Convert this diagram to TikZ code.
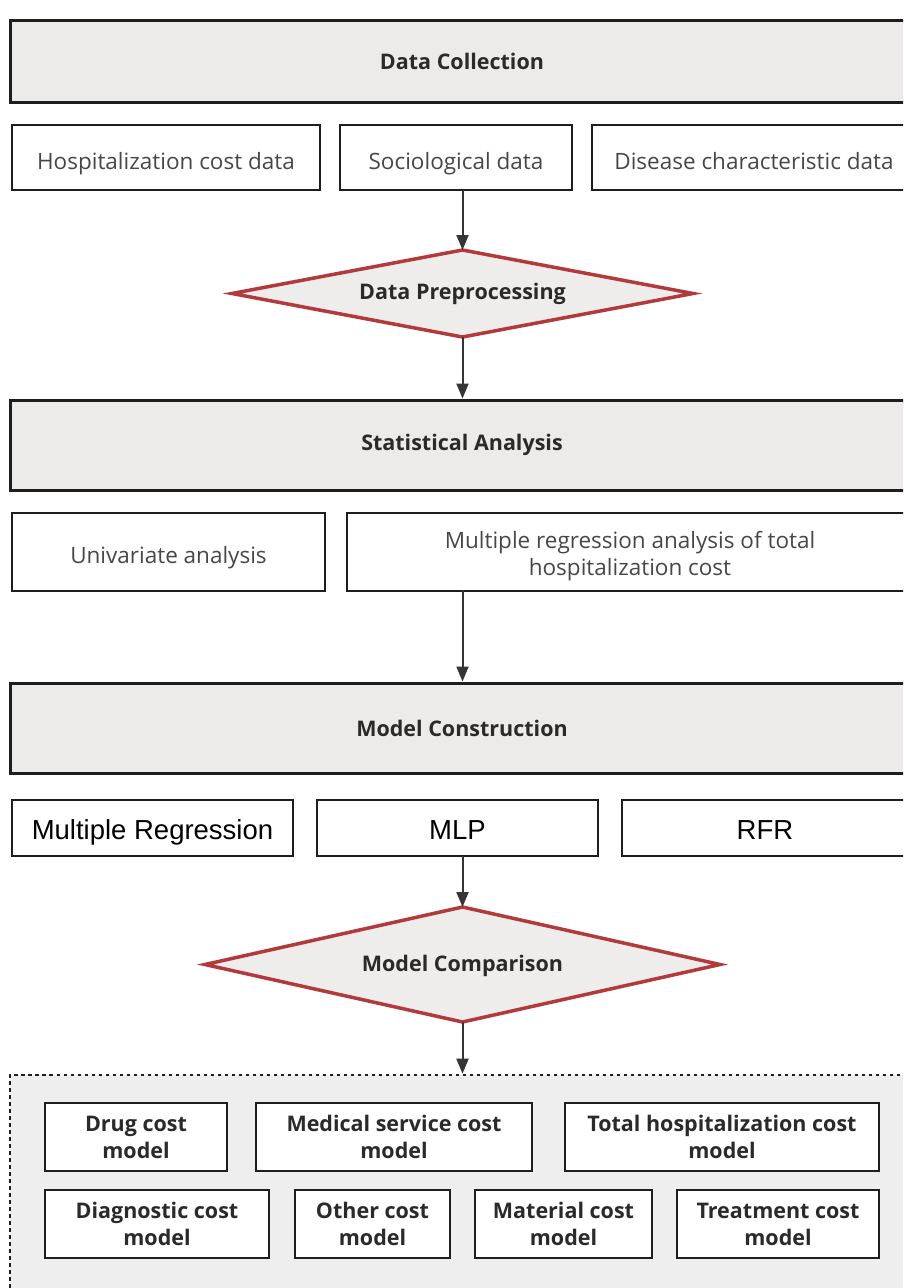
\documentclass[tikz,border=0pt]{standalone}
\usepackage{fontspec}
\setmainfont{Open Sans}
\newfontfamily\arialf{Liberation Sans}
\usetikzlibrary{arrows.meta}
\definecolor{hdrfill}{HTML}{EDEBE9}
\definecolor{dfill}{HTML}{EEEDEC}
\definecolor{cfill}{HTML}{EEEEEE}
\definecolor{bord}{HTML}{1E1E1E}
\definecolor{redb}{HTML}{B23A3C}
\definecolor{txt}{HTML}{474747}
\definecolor{btxt}{HTML}{2A2A2A}
\tikzset{
  hdr/.style={draw=bord,line width=3pt,fill=hdrfill,inner sep=0pt,font=\fontsize{21.5}{26}\selectfont\bfseries,text=btxt},
  sbox/.style={draw=bord,line width=2pt,fill=white,inner sep=0pt,font=\fontsize{22.5}{27}\selectfont,text=txt,align=center},
  sone/.style={sbox,text height=23pt,text depth=0pt},
  abox/.style={draw=bord,line width=2pt,fill=white,inner sep=0pt,font=\arialf\fontsize{27.5}{30}\selectfont,text=black,text height=22pt,text depth=0pt},
  mbox/.style={draw=bord,line width=2.2pt,fill=white,inner sep=0pt,font=\fontsize{21.5}{27}\selectfont\bfseries,text=btxt,align=center},
  dia/.style={draw=redb,line width=3.5pt,fill=dfill,line join=miter},
  dtext/.style={inner sep=0pt,font=\fontsize{21.5}{26}\selectfont\bfseries,text=btxt},
  arr/.style={draw=bord!90,line width=2pt,-{Triangle[length=15pt,width=12pt]}},
  cont/.style={draw=bord,line width=2.6pt,dash pattern=on 3.5pt off 3.5pt,fill=cfill,inner sep=0pt}
}
\begin{document}
\begin{tikzpicture}[x=1pt,y=-1pt]
\useasboundingbox (0,0) rectangle (903,1288);
\fill[white] (0,0) rectangle (903,1288);
\clip (0,0) rectangle (903,1288);
% Data collection
\node[hdr,minimum width=904pt,minimum height=82pt] (dc) at (462,61) {Data Collection};
\node[sone,minimum width=308pt,minimum height=65pt] (hc) at (166,157.5) {Hospitalization cost data};
\node[sone,minimum width=232pt,minimum height=65pt] (so) at (456,157.5) {Sociological data};
\node[sone,minimum width=324pt,minimum height=65pt] (di) at (754,157.5) {Disease characteristic data};
% Data preprocessing diamond
\coordinate (dpW) at (232,293.5);
\coordinate (dpN) at (462.5,250);
\coordinate (dpE) at (693,293.5);
\coordinate (dpS) at (462.5,337);
\draw[dia] (dpW) -- (dpN) -- (dpE) -- (dpS) -- cycle;
\node[dtext] (dp) at (462.5,293.5) {Data Preprocessing};
\coordinate (s1) at (462.5,190);
\draw[arr] (s1) -- (dpN);
% Statistical analysis
\node[hdr,minimum width=904pt,minimum height=90pt] (sa) at (462,445) {Statistical Analysis};
\draw[arr] (dpS) -- (sa.north -| dpS);
\node[sone,minimum width=313pt,minimum height=78pt] (ua) at (168.5,551.5) {Univariate analysis};
\node[sbox,minimum width=566pt,minimum height=78pt] (mr) at (630,551.5) {\rule{0pt}{27pt}Multiple regression analysis of total\\hospitalization cost};
\node[hdr,minimum width=904pt,minimum height=90pt] (mc) at (462,728) {Model Construction};
\coordinate (s2) at (462.5,590);
\draw[arr] (s2) -- (mc.north -| s2);
% Models
\node[abox,minimum width=281pt,minimum height=56pt] (mreg) at (152.5,828) {Multiple Regression};
\node[abox,minimum width=281pt,minimum height=56pt] (mlp) at (457.5,828) {MLP};
\node[abox,minimum width=286pt,minimum height=56pt] (rfr) at (765,828) {RFR};
% Model comparison diamond
\coordinate (cmW) at (205,964.5);
\coordinate (cmN) at (462.5,907);
\coordinate (cmE) at (720,964.5);
\coordinate (cmS) at (462.5,1022);
\draw[dia] (cmW) -- (cmN) -- (cmE) -- (cmS) -- cycle;
\node[dtext] (cmp) at (462.5,966) {Model Comparison};
\coordinate (s3) at (462.5,856);
\draw[arr] (s3) -- (cmN);
% Container
\node[cont,minimum width=904pt,minimum height=230pt] (ct) at (462,1190) {};
\draw[arr] (cmS) -- (ct.north -| cmS);
\node[mbox,minimum width=182pt,minimum height=68pt] (drug) at (136,1137) {Drug cost\\model};
\node[mbox,minimum width=276pt,minimum height=68pt] (med) at (394,1137) {Medical service cost\\model};
\node[mbox,minimum width=314pt,minimum height=68pt] (tot) at (722,1137) {Total hospitalization cost\\model};
\node[mbox,minimum width=224pt,minimum height=68pt] (diag) at (157,1224) {Diagnostic cost\\model};
\node[mbox,minimum width=155pt,minimum height=68pt] (oth) at (372.5,1224) {Other cost\\model};
\node[mbox,minimum width=177pt,minimum height=68pt] (mat) at (563.5,1224) {Material cost\\model};
\node[mbox,minimum width=202pt,minimum height=68pt] (trt) at (778,1224) {Treatment cost\\model};
\end{tikzpicture}
\end{document}
